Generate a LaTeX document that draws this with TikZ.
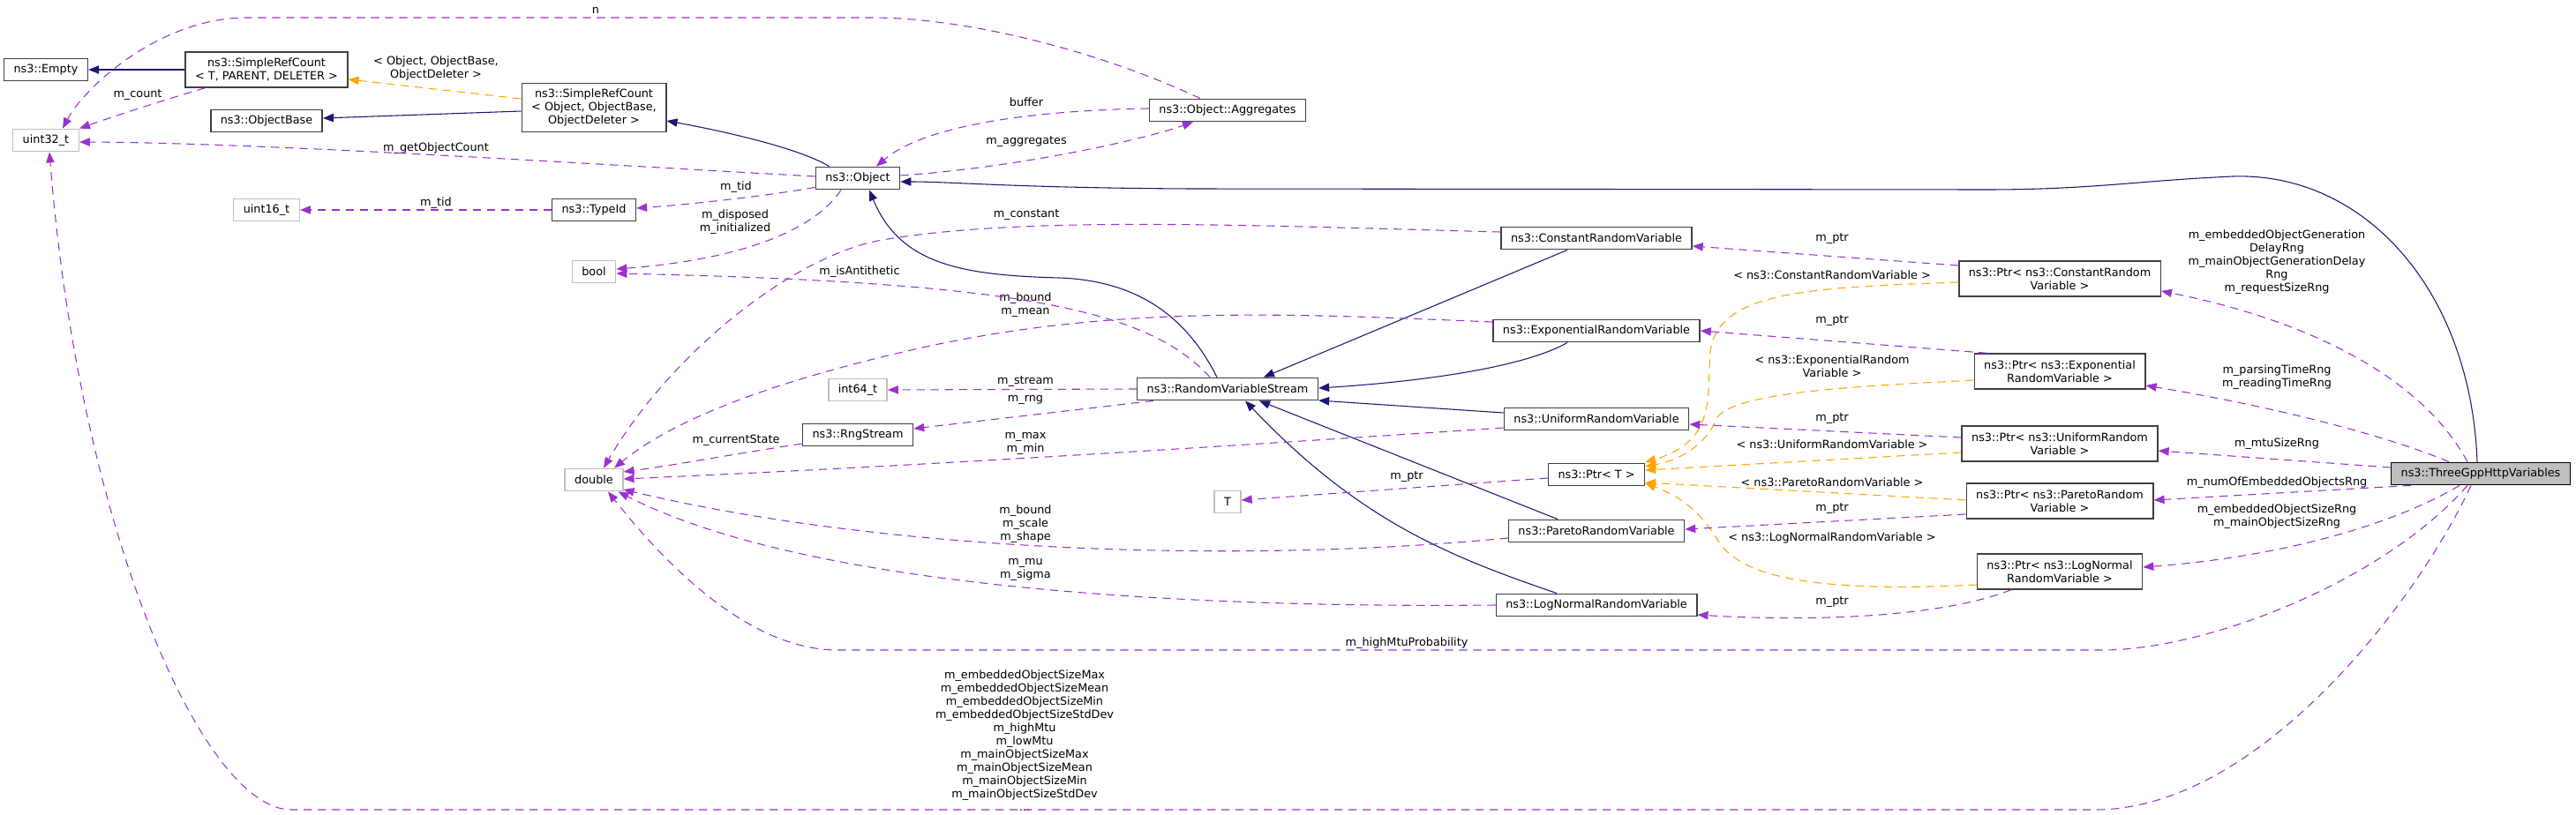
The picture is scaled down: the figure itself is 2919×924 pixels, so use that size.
\documentclass[tikz,border=0pt]{standalone}
\usepackage{fontspec}
\setmainfont{DejaVu Sans}
\usepackage{tikz}
\usetikzlibrary{arrows.meta,calc}
\definecolor{navyc}{HTML}{191970}
\definecolor{orchidc}{HTML}{9A32CD}
\definecolor{tmplc}{HTML}{FFA500}
\definecolor{selgrey}{HTML}{BFBFBF}
\definecolor{boxedge}{HTML}{404040}
\newcommand{\dxfont}{\fontsize{9.6}{11.25}\selectfont}
\tikzstyle{cls}=[draw=boxedge, line width=1.1pt, fill=white, inner xsep=8.25pt, inner ysep=2pt, minimum height=19pt, align=center, font=\dxfont]
\tikzstyle{ext}=[cls, draw=selgrey]
\tikzstyle{sel}=[cls, draw=black, fill=selgrey]
\tikzstyle{two}=[minimum height=30pt]
\tikzstyle{lbl}=[inner sep=0pt, align=center, font=\dxfont]
\tikzstyle{inh}=[draw=navyc, line width=0.8pt, -{Triangle[length=9pt,width=7pt]}]
\tikzstyle{usage}=[draw=orchidc, line width=0.8pt, dash pattern=on 7pt off 5pt, -{Triangle[length=9pt,width=7pt]}]
\tikzstyle{tmpl}=[usage, draw=tmplc]

\begin{document}
\begin{tikzpicture}[x=0.75pt,y=-0.75pt]
  \useasboundingbox (0,0) rectangle (2919,924);
  \node(empty) [cls] at (52,79) {ns3::Empty};
  \node(srct) [cls, two] at (302,79) {ns3::SimpleRefCount\\< T, PARENT, DELETER >};
  \node(u32) [ext] at (52,159) {uint32\_t};
  \node(objbase) [cls] at (302,137) {ns3::ObjectBase};
  \node(u16) [ext] at (302,238) {uint16\_t};
  \node(srcobj) [cls, minimum height=41pt] at (673,122) {ns3::SimpleRefCount\\< Object, ObjectBase,\\ObjectDeleter >};
  \node(typeid) [cls] at (673,238) {ns3::TypeId};
  \node(bool) [ext] at (673,308) {bool};
  \node(dbl) [ext] at (673,544) {double};
  \node(obj) [cls] at (972,202) {ns3::Object};
  \node(i64) [ext] at (972,442) {int64\_t};
  \node(rng) [cls] at (972,493) {ns3::RngStream};
  \node(aggr) [cls] at (1391,125) {ns3::Object::Aggregates};
  \node(rvs) [cls] at (1391,441) {ns3::RandomVariableStream};
  \node(tt) [ext] at (1391,569) {T};
  \node(crv) [cls] at (1809,270) {ns3::ConstantRandomVariable};
  \node(erv) [cls] at (1809,375) {ns3::ExponentialRandomVariable};
  \node(urv) [cls] at (1809,475) {ns3::UniformRandomVariable};
  \node(ptrt) [cls] at (1809,538) {ns3::Ptr< T >};
  \node(prv) [cls] at (1809,602) {ns3::ParetoRandomVariable};
  \node(lrv) [cls] at (1809,686) {ns3::LogNormalRandomVariable};
  \node(pcrv) [cls, two] at (2334,316) {ns3::Ptr< ns3::ConstantRandom\\Variable >};
  \node(perv) [cls, two] at (2334,421) {ns3::Ptr< ns3::Exponential\\RandomVariable >};
  \node(purv) [cls, two] at (2334,503) {ns3::Ptr< ns3::UniformRandom\\Variable >};
  \node(pprv) [cls, two] at (2334,568) {ns3::Ptr< ns3::ParetoRandom\\Variable >};
  \node(plrv) [cls, two] at (2334,648) {ns3::Ptr< ns3::LogNormal\\RandomVariable >};
  \node(http) [sel] at (2811,537) {ns3::ThreeGppHttpVariables};

  \node(Ln) [lbl] at (675,12) {n};
  \node(Lcount) [lbl] at (156,108) {m\_count};
  \node(Lsrc) [lbl] at (494,77) {< Object, ObjectBase,\\ObjectDeleter >};
  \node(Lgetcount) [lbl] at (494,168) {m\_getObjectCount};
  \node(Ltid) [lbl] at (494,230) {m\_tid};
  \node(Lbuffer) [lbl] at (1163,116) {buffer};
  \node(Laggr) [lbl] at (1163,161) {m\_aggregates};
  \node(Ltid2) [lbl] at (834,212) {m\_tid};
  \node(Ldisp) [lbl] at (833,252) {m\_disposed\\m\_initialized};
  \node(Lconst) [lbl] at (1163,244) {m\_constant};
  \node(Lanti) [lbl] at (974,308) {m\_isAntithetic};
  \node(Lbmean) [lbl] at (1162,346) {m\_bound\\m\_mean};
  \node(Lstream) [lbl] at (1162,433) {m\_stream};
  \node(Lrng) [lbl] at (1162,453) {m\_rng};
  \node(Lcur) [lbl] at (834,499) {m\_currentState};
  \node(Lmaxmin) [lbl] at (1162,503) {m\_max\\m\_min};
  \node(LptrT) [lbl] at (1594,541) {m\_ptr};
  \node(Lbss) [lbl] at (1162,594) {m\_bound\\m\_scale\\m\_shape};
  \node(Lmusig) [lbl] at (1162,646) {m\_mu\\m\_sigma};
  \node(Lhigh) [lbl] at (1594,729) {m\_highMtuProbability};
  \node(Llist) [lbl] at (1161,840) {m\_embeddedObjectSizeMax\\m\_embeddedObjectSizeMean\\m\_embeddedObjectSizeMin\\m\_embeddedObjectSizeStdDev\\m\_highMtu\\m\_lowMtu\\m\_mainObjectSizeMax\\m\_mainObjectSizeMean\\m\_mainObjectSizeMin\\m\_mainObjectSizeStdDev\\...};
  \node(Lpc) [lbl] at (2076,271) {m\_ptr};
  \node(Ltc) [lbl] at (2076,312) {< ns3::ConstantRandomVariable >};
  \node(Lpe) [lbl] at (2076,364) {m\_ptr};
  \node(Lte) [lbl] at (2076,415) {< ns3::ExponentialRandom\\Variable >};
  \node(Lpu) [lbl] at (2076,475) {m\_ptr};
  \node(Ltu) [lbl] at (2076,504) {< ns3::UniformRandomVariable >};
  \node(Ltp) [lbl] at (2076,547) {< ns3::ParetoRandomVariable >};
  \node(Lpp) [lbl] at (2076,577) {m\_ptr};
  \node(Ltl) [lbl] at (2076,610) {< ns3::LogNormalRandomVariable >};
  \node(Lpl) [lbl] at (2076,683) {m\_ptr};
  \node(Lhc) [lbl] at (2580,297) {m\_embeddedObjectGeneration\\DelayRng\\m\_mainObjectGenerationDelay\\Rng\\m\_requestSizeRng};
  \node(Lhe) [lbl] at (2580,428) {m\_parsingTimeRng\\m\_readingTimeRng};
  \node(Lhu) [lbl] at (2580,503) {m\_mtuSizeRng};
  \node(Lhp) [lbl] at (2580,547) {m\_numOfEmbeddedObjectsRng};
  \node(Lhl) [lbl] at (2580,586) {m\_embeddedObjectSizeRng\\m\_mainObjectSizeRng};

  \draw[inh] (srct.west) -- (empty.east);
  \draw[inh] ($(srcobj.west)+(0,4)$) -- ($(objbase.east)+(0,-3)$);
  \draw[inh] ($(obj.north west)+(16,0)$) .. controls (900,165) and (800,145) .. ($(srcobj.east)+(0,15)$);
  \draw[inh] ($(rvs.north)+(-12,0)$) .. controls (1345,360) and (1290,318) .. (1200,315) .. controls (1090,312) and (1020,300) .. ($(obj.south)+(13,0)$);
  \draw[inh] ($(http.north)+(-4,0)$) .. controls (2800,330) and (2680,195) .. (2530,200) .. controls (2420,205) and (2370,215) .. (2250,215) -- (1350,214) .. controls (1150,213) and (1080,206) .. ($(obj.east)+(0,4)$);
  \draw[inh] ($(crv.south)+(-33,0)$) -- ($(rvs.north)+(41,0)$);
  \draw[inh] ($(erv.south)+(-33,0)$) .. controls (1730,415) and (1620,432) .. ($(rvs.east)+(0,-1)$);
  \draw[inh] ($(urv.west)+(0,-7)$) -- ($(rvs.east)+(0,13)$);
  \draw[inh] ($(prv.north)+(-44,0)$) -- ($(rvs.south)+(36,0)$);
  \draw[inh] ($(lrv.north)+(-45,0)$) .. controls (1640,630) and (1540,590) .. ($(rvs.south)+(20,0)$);

  \draw[tmpl] ($(srcobj.west)+(0,-10)$) -- ($(srct.east)+(0,11)$);
  \draw[tmpl] ($(pcrv.west)+(0,4)$) .. controls (2050,326) and (1945,330) .. (1938,400) .. controls (1934,450) and (1945,500) .. ($(ptrt.east)+(0,-14)$);
  \draw[tmpl] ($(perv.west)+(0,10)$) .. controls (2100,438) and (1960,445) .. (1945,475) .. controls (1935,500) and (1910,520) .. ($(ptrt.east)+(0,-9)$);
  \draw[tmpl] ($(purv.west)+(0,10)$) -- ($(ptrt.east)+(0,-5)$);
  \draw[tmpl] ($(pprv.west)+(0,-1)$) -- ($(ptrt.east)+(0,9)$);
  \draw[tmpl] ($(plrv.west)+(0,15)$) .. controls (2060,672) and (1975,655) .. (1948,615) .. controls (1930,585) and (1910,565) .. ($(ptrt.east)+(0,10)$);

  \draw[usage] ($(aggr.north)+(-31,0)$) .. controls (1250,60) and (1100,20) .. (987,20) -- (280,20) .. controls (180,20) and (95,100) .. ($(u32.north)+(19,0)$);
  \draw[usage] ($(srct.south west)+(23,0)$) .. controls (180,115) and (120,135) .. (u32.north east);
  \draw[usage] ($(obj.west)+(0,-2)$) .. controls (650,185) and (300,162) .. ($(u32.east)+(0,2)$);
  \draw[usage] ($(aggr.west)+(0,-2)$) .. controls (1180,125) and (1050,140) .. ($(obj.north)+(21,0)$);
  \draw[usage] ($(obj.east)+(0,-3)$) .. controls (1150,190) and (1290,160) .. ($(aggr.south)+(-39,0)$);
  \draw[usage] (typeid.west) -- (u16.east);
  \draw[usage] ($(obj.south west)+(0,-3)$) .. controls (870,222) and (780,232) .. ($(typeid.east)+(0,-2)$);
  \draw[usage] ($(obj.south)+(-19,0)$) .. controls (920,265) and (830,295) .. ($(bool.east)+(0,-3)$);
  \draw[usage] ($(rvs.north)+(-20,0)$) .. controls (1300,350) and (1150,320) .. ($(bool.east)+(0,2)$);
  \draw[usage] ($(crv.west)+(0,-7)$) .. controls (1400,255) and (1160,245) .. (1000,272) .. controls (900,289) and (760,400) .. ($(dbl.north)+(11,0)$);
  \draw[usage] ($(erv.west)+(0,-10)$) .. controls (1450,355) and (1250,345) .. (1019,400) .. controls (892,430) and (770,470) .. ($(dbl.north)+(23,0)$);
  \draw[usage] (rvs.west) -- (i64.east);
  \draw[usage] ($(rvs.south west)+(19,0)$) -- ($(rng.east)+(0,-7)$);
  \draw[usage] ($(rng.west)+(0,10)$) .. controls (830,515) and (760,528) .. ($(dbl.east)+(0,-9)$);
  \draw[usage] ($(urv.west)+(0,10)$) .. controls (1300,512) and (1000,530) .. ($(dbl.east)+(0,-1)$);
  \draw[usage] ($(ptrt.west)+(0,4)$) -- ($(tt.east)+(0,-2)$);
  \draw[usage] ($(prv.west)+(0,8)$) .. controls (1400,640) and (1000,625) .. ($(dbl.east)+(0,11)$);
  \draw[usage] (lrv.west) .. controls (1300,690) and (900,660) .. ($(dbl.south east)+(-6,0)$);
  \draw[usage] ($(pcrv.west)+(0,-15)$) -- ($(crv.east)+(0,9)$);
  \draw[usage] ($(perv.north west)+(15,0)$) -- (erv.east);
  \draw[usage] ($(purv.west)+(0,-7)$) -- ($(urv.east)+(0,6)$);
  \draw[usage] ($(pprv.west)+(0,15)$) -- ($(prv.east)+(0,-2)$);
  \draw[usage] ($(plrv.south west)+(39,0)$) .. controls (2200,700) and (2050,705) .. ($(lrv.east)+(0,11)$);
  \draw[usage] ($(http.north)+(-15,0)$) .. controls (2740,420) and (2600,360) .. ($(pcrv.east)+(0,14)$);
  \draw[usage] ($(http.north)+(-36,0)$) .. controls (2720,500) and (2600,465) .. ($(perv.east)+(0,16)$);
  \draw[usage] ($(http.west)+(0,-7)$) -- ($(purv.east)+(0,8)$);
  \draw[usage] ($(http.south west)+(23,0)$) -- ($(pprv.east)+(0,-1)$);
  \draw[usage] ($(http.south)+(-24,0)$) .. controls (2720,590) and (2600,630) .. ($(plrv.east)+(0,-5)$);
  \draw[usage] ($(http.south)+(-15,0)$) .. controls (2700,660) and (2500,737) .. (2382,737) -- (949,737) .. controls (860,737) and (770,660) .. ($(dbl.south)+(16,0)$);
  \draw[usage] ($(http.south)+(-11,0)$) .. controls (2740,680) and (2560,918) .. (2374,918) -- (330,918) .. controls (230,918) and (90,600) .. ($(u32.south)+(4,0)$);
\end{tikzpicture}
\end{document}
